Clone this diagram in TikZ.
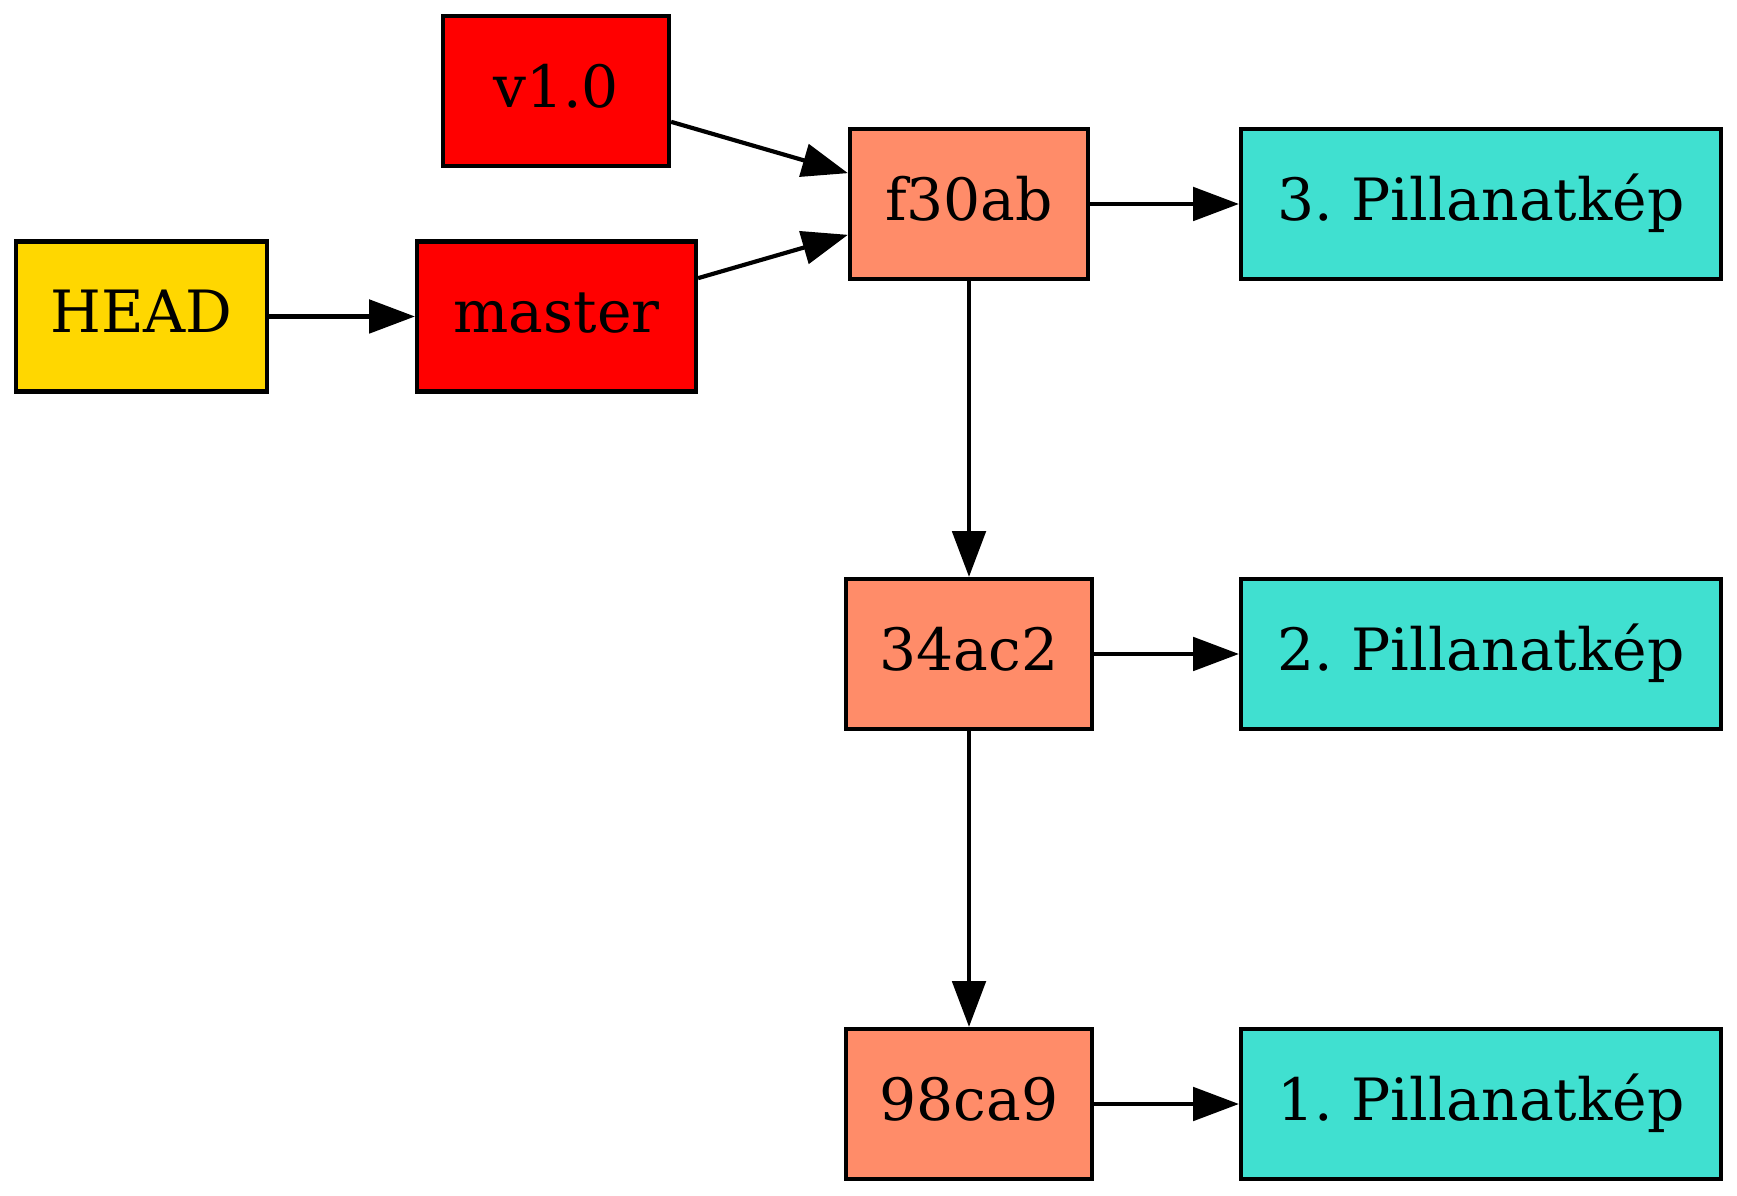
\documentclass[tikz,border=0pt]{standalone}
\usepackage{fontspec}
\setmainfont{DejaVu Serif}
\usetikzlibrary{arrows.meta}
\definecolor{headgold}{HTML}{FFD700}
\definecolor{refred}{HTML}{FF0000}
\definecolor{commitsalmon}{HTML}{FF8C69}
\definecolor{snapturq}{HTML}{40E0D0}
\begin{document}
\frenchspacing
\begin{tikzpicture}[x=0.24pt,y=-0.24pt,
  box/.style={draw=black, line width=1pt, rectangle, inner sep=0pt,
    minimum height=36pt, font=\fontsize{14pt}{16pt}\selectfont\frenchspacing,
    text height=10.5pt, text depth=2.8pt},
  edge/.style={line width=1pt, -{Triangle[length=11pt,width=8pt]}}]
\useasboundingbox (0,0) rectangle (1737,1196);
\node[box, fill=headgold, minimum width=60.24pt] (head) at (141.5,316.5) {HEAD};
\node[box, fill=refred, minimum width=66.96pt] (master) at (556.5,316.5) {master};
\node[box, fill=refred, minimum width=54.24pt] (v10) at (556,91) {v1.0};
\node[box, fill=commitsalmon, minimum width=57.12pt] (f30ab) at (969,204) {f30ab};
\node[box, fill=commitsalmon, minimum width=59.04pt] (c34ac2) at (969,654) {34ac2};
\node[box, fill=commitsalmon, minimum width=59.04pt] (c98ca9) at (969,1104) {98ca9};
\node[box, fill=snapturq, minimum width=115.2pt] (s3) at (1481,204) {3.\ Pillanatkép};
\node[box, fill=snapturq, minimum width=115.2pt] (s2) at (1481,654) {2.\ Pillanatkép};
\node[box, fill=snapturq, minimum width=115.2pt] (s1) at (1481,1104) {1.\ Pillanatkép};
\draw[edge] (head.east) -- (master.west);
\draw[edge] ([yshift=-7.4pt]v10.east) -- ([yshift=7.4pt]f30ab.west);
\draw[edge] ([yshift=9.2pt]master.east) -- ([yshift=-7.4pt]f30ab.west);
\draw[edge] (f30ab.east) -- (s3.west);
\draw[edge] (f30ab.south) -- (c34ac2.north);
\draw[edge] (c34ac2.east) -- (s2.west);
\draw[edge] (c34ac2.south) -- (c98ca9.north);
\draw[edge] (c98ca9.east) -- (s1.west);
\end{tikzpicture}
\end{document}
